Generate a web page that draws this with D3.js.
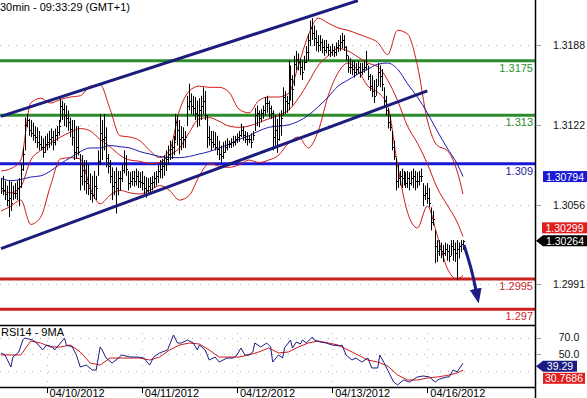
<!DOCTYPE html>
<html>
<head>
<meta charset="utf-8">
<script src="https://cdn.jsdelivr.net/npm/d3@7/dist/d3.min.js"></script>
<style>
  body { margin: 0; background: #fff; }
  svg { display: block; font-family: "Liberation Sans", Arial, sans-serif; }
</style>
</head>
<body>
<svg width="587" height="398"></svg>
<script>
// ---- data (30min bars, 04/09 12:30 -> 04/16 09:00) ----
const title = '30min - 09:33:29 (GMT+1)'
const dayLabels = ['04/10/2012', '04/11/2012', '04/12/2012', '04/13/2012', '04/16/2012']
const dayStarts = [23, 71, 119, 167, 215]

const high = [
  1.3078,1.3080,1.3076,1.3072,1.3076,1.3075,1.3072,1.3074,1.3076,1.3078,
  1.3090,1.3103,1.3128,1.3131,1.3127,1.3126,1.3124,1.3121,1.3120,1.3117,
  1.3113,1.3111,1.3113,1.3115,1.3117,1.3119,1.3117,1.3119,1.3121,1.3126,
  1.3144,1.3142,1.3140,1.3138,1.3134,1.3128,1.3126,1.3126,1.3121,1.3121,
  1.3098,1.3097,1.3093,1.3093,1.3089,1.3082,1.3080,1.3084,1.3080,1.3101,
  1.3131,1.3126,1.3131,1.3120,1.3098,1.3093,1.3087,1.3084,1.3087,1.3084,
  1.3084,1.3090,1.3101,1.3097,1.3084,1.3083,1.3084,1.3084,1.3086,1.3084,
  1.3083,1.3084,1.3080,1.3079,1.3078,1.3079,1.3080,1.3083,1.3084,1.3089,
  1.3093,1.3094,1.3097,1.3101,1.3105,1.3109,1.3109,1.3113,1.3131,1.3130,
  1.3126,1.3121,1.3120,1.3117,1.3146,1.3156,1.3148,1.3146,1.3145,1.3142,
  1.3144,1.3146,1.3153,1.3150,1.3130,1.3121,1.3117,1.3117,1.3116,1.3113,
  1.3109,1.3105,1.3108,1.3109,1.3111,1.3109,1.3111,1.3113,1.3113,1.3115,
  1.3117,1.3123,1.3121,1.3117,1.3116,1.3113,1.3115,1.3117,1.3136,1.3138,
  1.3134,1.3135,1.3138,1.3145,1.3146,1.3142,1.3138,1.3134,1.3130,1.3127,
  1.3132,1.3134,1.3153,1.3150,1.3146,1.3175,1.3171,1.3163,1.3179,1.3183,
  1.3181,1.3177,1.3175,1.3179,1.3187,1.3197,1.3208,1.3210,1.3204,1.3200,
  1.3196,1.3196,1.3193,1.3192,1.3192,1.3189,1.3187,1.3189,1.3187,1.3190,
  1.3192,1.3196,1.3198,1.3196,1.3187,1.3179,1.3177,1.3175,1.3175,1.3173,
  1.3175,1.3173,1.3173,1.3175,1.3183,1.3171,1.3164,1.3163,1.3159,1.3160,
  1.3173,1.3171,1.3168,1.3153,1.3146,1.3136,1.3130,1.3117,1.3109,1.3095,
  1.3089,1.3084,1.3086,1.3084,1.3083,1.3084,1.3083,1.3084,1.3086,1.3084,
  1.3083,1.3084,1.3086,1.3074,1.3072,1.3074,1.3070,1.3054,1.3051,1.3035,
  1.3027,1.3027,1.3025,1.3023,1.3025,1.3024,1.3023,1.3027,1.3027,1.3025,
  1.3027,1.3025,1.3027,1.3027
]
const low = [
  1.3065,1.3064,1.3060,1.3055,1.3046,1.3051,1.3060,1.3061,1.3060,1.3055,
  1.3070,1.3084,1.3101,1.3120,1.3113,1.3112,1.3109,1.3107,1.3103,1.3101,
  1.3101,1.3095,1.3099,1.3101,1.3103,1.3105,1.3101,1.3105,1.3109,1.3113,
  1.3124,1.3126,1.3121,1.3120,1.3117,1.3112,1.3105,1.3093,1.3094,1.3097,
  1.3068,1.3072,1.3068,1.3065,1.3064,1.3060,1.3058,1.3061,1.3060,1.3080,
  1.3089,1.3093,1.3101,1.3087,1.3082,1.3074,1.3060,1.3064,1.3049,1.3064,
  1.3068,1.3075,1.3082,1.3080,1.3068,1.3070,1.3072,1.3071,1.3072,1.3070,
  1.3070,1.3068,1.3064,1.3062,1.3065,1.3066,1.3068,1.3070,1.3072,1.3074,
  1.3078,1.3078,1.3080,1.3084,1.3089,1.3093,1.3094,1.3097,1.3109,1.3105,
  1.3098,1.3101,1.3103,1.3103,1.3121,1.3134,1.3131,1.3130,1.3126,1.3120,
  1.3121,1.3126,1.3131,1.3126,1.3103,1.3105,1.3101,1.3103,1.3101,1.3097,
  1.3093,1.3091,1.3094,1.3099,1.3101,1.3103,1.3103,1.3104,1.3105,1.3107,
  1.3108,1.3112,1.3109,1.3107,1.3105,1.3107,1.3103,1.3109,1.3117,1.3121,
  1.3120,1.3124,1.3127,1.3130,1.3132,1.3128,1.3127,1.3101,1.3105,1.3099,
  1.3109,1.3113,1.3130,1.3131,1.3132,1.3134,1.3142,1.3138,1.3154,1.3167,
  1.3167,1.3163,1.3159,1.3167,1.3173,1.3175,1.3187,1.3192,1.3187,1.3183,
  1.3182,1.3183,1.3181,1.3179,1.3181,1.3179,1.3178,1.3179,1.3178,1.3179,
  1.3182,1.3183,1.3185,1.3183,1.3175,1.3165,1.3164,1.3163,1.3161,1.3163,
  1.3164,1.3161,1.3163,1.3165,1.3167,1.3159,1.3150,1.3145,1.3140,1.3146,
  1.3154,1.3153,1.3150,1.3136,1.3130,1.3119,1.3117,1.3101,1.3093,1.3068,
  1.3070,1.3072,1.3070,1.3072,1.3070,1.3070,1.3068,1.3072,1.3070,1.3068,
  1.3070,1.3072,1.3075,1.3055,1.3060,1.3057,1.3054,1.3035,1.3039,1.3008,
  1.3009,1.3014,1.3012,1.3009,1.3014,1.3010,1.3009,1.3014,1.3010,1.3009,
  1.2994,1.3012,1.3017,1.3019
]
const close = [
  1.3070,1.3068,1.3065,1.3060,1.3062,1.3058,1.3066,1.3066,1.3070,1.3072,
  1.3086,1.3098,1.3122,1.3126,1.3118,1.3115,1.3114,1.3112,1.3108,1.3106,
  1.3104,1.3100,1.3106,1.3108,1.3110,1.3112,1.3108,1.3114,1.3116,1.3121,
  1.3138,1.3135,1.3130,1.3128,1.3124,1.3119,1.3112,1.3100,1.3104,1.3100,
  1.3080,1.3085,1.3076,1.3074,1.3070,1.3066,1.3064,1.3072,1.3070,1.3092,
  1.3115,1.3110,1.3112,1.3095,1.3088,1.3080,1.3072,1.3075,1.3070,1.3078,
  1.3078,1.3085,1.3090,1.3086,1.3074,1.3076,1.3078,1.3076,1.3080,1.3076,
  1.3075,1.3074,1.3070,1.3068,1.3072,1.3074,1.3075,1.3078,1.3080,1.3084,
  1.3086,1.3088,1.3090,1.3094,1.3098,1.3102,1.3104,1.3108,1.3124,1.3118,
  1.3110,1.3112,1.3110,1.3112,1.3138,1.3142,1.3138,1.3136,1.3132,1.3130,
  1.3134,1.3138,1.3142,1.3130,1.3112,1.3110,1.3108,1.3106,1.3104,1.3102,
  1.3098,1.3096,1.3100,1.3104,1.3106,1.3106,1.3108,1.3108,1.3110,1.3112,
  1.3114,1.3118,1.3114,1.3110,1.3110,1.3110,1.3108,1.3114,1.3130,1.3132,
  1.3128,1.3132,1.3134,1.3140,1.3140,1.3136,1.3132,1.3112,1.3118,1.3110,
  1.3122,1.3128,1.3145,1.3142,1.3140,1.3165,1.3160,1.3152,1.3172,1.3176,
  1.3174,1.3170,1.3166,1.3174,1.3182,1.3192,1.3202,1.3198,1.3194,1.3190,
  1.3188,1.3190,1.3186,1.3184,1.3186,1.3184,1.3182,1.3184,1.3182,1.3186,
  1.3188,1.3190,1.3192,1.3186,1.3180,1.3170,1.3170,1.3168,1.3166,1.3168,
  1.3170,1.3166,1.3168,1.3170,1.3172,1.3162,1.3154,1.3150,1.3146,1.3154,
  1.3166,1.3162,1.3156,1.3142,1.3134,1.3124,1.3120,1.3104,1.3096,1.3076,
  1.3078,1.3080,1.3078,1.3076,1.3074,1.3078,1.3074,1.3078,1.3080,1.3076,
  1.3076,1.3080,1.3080,1.3064,1.3066,1.3062,1.3058,1.3042,1.3044,1.3022,
  1.3018,1.3020,1.3018,1.3016,1.3020,1.3018,1.3014,1.3022,1.3020,1.3016,
  1.3020,1.3022,1.3024,1.30264
]

// indicator samples (bar index)
const sampleIdx = [0,5,10,15,20,25,30,35,40,45,50,55,60,65,70,75,80,85,90,95,
  100,105,110,115,120,125,130,135,140,145,150,155,160,165,170,175,180,185,190,195,
  200,205,210,215,220,225,230,233]
const bbUpper = [1.3084,1.3086,1.3093,1.3140,1.3144,1.3140,1.3143,1.3145,1.3146,1.3154,
  1.3155,1.3135,1.3113,1.3112,1.3109,1.3101,1.3095,1.3101,1.3134,1.3150,
  1.3154,1.3153,1.3153,1.3149,1.3135,1.3132,1.3142,1.3145,1.3145,1.3148,
  1.3171,1.3196,1.3210,1.3206,1.3202,1.3200,1.3197,1.3194,1.3190,1.3180,
  1.3200,1.3197,1.3171,1.3126,1.3105,1.3101,1.3084,1.3065]
const bbMiddle = [1.3068,1.3066,1.3071,1.3093,1.3101,1.3107,1.3112,1.3116,1.3119,1.3117,
  1.3110,1.3104,1.3097,1.3093,1.3092,1.3090,1.3091,1.3097,1.3103,1.3116,
  1.3127,1.3128,1.3125,1.3121,1.3120,1.3121,1.3124,1.3127,1.3130,1.3134,
  1.3144,1.3157,1.3171,1.3179,1.3185,1.3183,1.3178,1.3173,1.3170,1.3159,
  1.3142,1.3121,1.3107,1.3090,1.3070,1.3056,1.3042,1.30299]
const bbLower = [1.3051,1.3055,1.3060,1.3040,1.3046,1.3072,1.3094,1.3095,1.3094,1.3070,
  1.3057,1.3064,1.3068,1.3066,1.3065,1.3068,1.3072,1.3068,1.3060,1.3064,
  1.3080,1.3090,1.3088,1.3087,1.3089,1.3093,1.3091,1.3093,1.3097,1.3107,
  1.3112,1.3103,1.3117,1.3146,1.3165,1.3173,1.3167,1.3154,1.3149,1.3138,
  1.3089,1.3050,1.3037,1.3055,1.3031,1.3004,1.2995,1.2998]
const maLine = [1.3078,1.3076,1.3077,1.3079,1.3080,1.3084,1.3090,1.3095,1.3100,1.3103,
  1.3103,1.3105,1.3104,1.3103,1.3100,1.3098,1.3096,1.3095,1.3095,1.3096,
  1.3098,1.3100,1.3103,1.3106,1.3110,1.3113,1.3117,1.3120,1.3121,1.3122,
  1.3125,1.3130,1.3137,1.3145,1.3154,1.3159,1.3164,1.3168,1.3172,1.3173,
  1.3168,1.3156,1.3145,1.3132,1.3117,1.3103,1.3090,1.30794]

// RSI14 (own sample points) and its 9MA (on sampleIdx)
const rsiIdx = [0,2,5,6,9,11,12,16,18,21,23,26,27,30,32,33,36,38,40,43,
  46,48,50,51,53,56,58,61,65,69,72,75,77,80,84,87,89,91,94,97,
  99,100,103,105,108,110,114,117,119,121,123,125,127,128,131,134,136,137,140,142,
  143,146,147,149,151,152,154,157,158,161,164,167,171,172,174,177,179,182,185,187,
  190,191,193,195,198,200,203,206,210,213,216,219,221,225,226,228,230,233]
const rsi = [51.6,49.2,34.7,46.7,52.8,67.2,69.6,67.2,63.6,55.2,
  61.2,58.8,55.2,63.6,69.6,61.2,58.8,49.2,34.7,37.1,
  31.1,31.1,58.8,55.2,45.5,39.5,43.1,49.2,46.7,46.7,
  45.5,37.1,46.7,51.6,55.2,73.3,63.6,63.6,67.2,63.6,
  55.2,61.2,55.2,43.1,46.7,40.7,45.5,45.5,49.2,57.6,
  49.2,49.2,52.8,63.6,58.8,63.6,58.8,40.7,49.2,45.5,
  57.6,67.2,57.6,64.8,62.4,67.2,63.6,70.8,67.2,64.8,
  63.6,61.2,60.0,61.2,49.2,43.1,45.5,40.7,45.5,33.5,
  33.5,49.2,40.7,31.1,16.6,13.0,19.0,16.6,22.7,23.9,
  22.7,16.6,20.2,22.7,22.7,31.1,28.7,39.29]
const rsiMA = [49.2,49.2,49.2,66.0,63.6,58.8,58.8,61.2,52.8,39.5,
  37.1,45.5,45.5,45.5,45.5,43.1,46.7,55.2,61.2,63.6,
  62.4,55.2,46.7,46.7,46.7,49.2,52.8,57.6,51.6,52.8,
  58.8,63.6,66.0,63.6,61.2,55.2,49.2,43.1,40.7,35.9,
  25.1,19.0,19.0,21.4,22.7,24.5,27.5,30.7686]

// drawn levels and trend lines
const levelValues = [1.3175, 1.313, 1.309, 1.2995, 1.297]
const levelNames = ['1.3175', '1.313', '1.309', '1.2995', '1.297']
const channelUpper = [[0, 1.3129], [180, 1.32245]]
const channelLower = [[0, 1.3020], [215, 1.3150]]
const arrowPts = [[233.5, 1.3023], [237.5, 1.3002], [239.5, 1.2986]]

const priceTicks = [1.3188, 1.3122, 1.3056, 1.2991]
const rsiTicks = [70, 50, 30]
const rsiTickLabels = ['70.0', '50.0']

// ---- layout ----
let svg = d3.select('svg')
let plotRight = 535
let mainBottom = 325
let rsiBottom = 387

let scale = {
  x: d3.scaleLinear().domain([0, 233]).range([1, 463]),
  y: d3.scaleLinear().domain([1.2957, 1.3225]).range([325, 0]),
  r: d3.scaleLinear().domain([0, 100]).range([395.8, 312.8])
}

let colors = {
  level: ['#2c8c2c', '#2c8c2c', '#1a1ad6', '#cc1f1f', '#cc1f1f'],
  label: ['#2c8c2c', '#2c8c2c', '#24249c', '#cc1f1f', '#cc1f1f']
}

let defs = svg.append('defs')
defs.append('clipPath').attr('id', 'clipMain')
  .append('rect').attr('x', 0).attr('y', 0).attr('width', plotRight).attr('height', mainBottom)
defs.append('clipPath').attr('id', 'clipRsi')
  .append('rect').attr('x', 0).attr('y', mainBottom).attr('width', plotRight).attr('height', rsiBottom - mainBottom)
defs.append('marker').attr('id', 'head')
  .attr('markerUnits', 'userSpaceOnUse').attr('markerWidth', 16).attr('markerHeight', 12)
  .attr('refX', 1).attr('refY', 6).attr('orient', 'auto')
  .append('path').attr('d', 'M0,0 L15,6 L0,12 Z').attr('fill', '#1c1c84')

let main = svg.append('g').attr('clip-path', 'url(#clipMain)')
let low_panel = svg.append('g').attr('clip-path', 'url(#clipRsi)')

// dotted grid
main.selectAll('.grid')
  .data(priceTicks)
  .enter()
  .append('line')
  .attr('x1', 0).attr('x2', plotRight)
  .attr('y1', d => Math.round(scale.y(d)) + 0.5)
  .attr('y2', d => Math.round(scale.y(d)) + 0.5)
  .attr('stroke', '#b4b4b4')
  .attr('stroke-dasharray', '1,7')

low_panel.selectAll('.grid')
  .data(rsiTicks)
  .enter()
  .append('line')
  .attr('x1', 0).attr('x2', plotRight)
  .attr('y1', d => Math.round(scale.r(d)) + 0.5)
  .attr('y2', d => Math.round(scale.r(d)) + 0.5)
  .attr('stroke', '#b4b4b4')
  .attr('stroke-dasharray', '1,7')

low_panel.selectAll('.vgrid')
  .data(dayStarts)
  .enter()
  .append('line')
  .attr('x1', d => Math.round(scale.x(d)) + 0.5)
  .attr('x2', d => Math.round(scale.x(d)) + 0.5)
  .attr('y1', mainBottom).attr('y2', rsiBottom)
  .attr('stroke', '#b4b4b4')
  .attr('stroke-dasharray', '1,7')

// horizontal levels
main.selectAll('.level')
  .data(levelValues)
  .enter()
  .append('line')
  .attr('x1', 0).attr('x2', plotRight)
  .attr('y1', d => scale.y(d)).attr('y2', d => scale.y(d))
  .attr('stroke', (d, i) => colors.level[i])
  .attr('stroke-width', 3)

svg.selectAll('.levelText')
  .data(levelValues)
  .enter()
  .append('text')
  .attr('x', 533)
  .attr('y', d => scale.y(d) + 11)
  .attr('text-anchor', 'end')
  .attr('font-size', 11)
  .attr('fill', (d, i) => colors.label[i])
  .text((d, i) => levelNames[i])

// indicators
let sLine = values => d3.line()
  .x((d, i) => scale.x(sampleIdx[i]))
  .y((d, i) => scale.y(values[i]))
  .curve(d3.curveMonotoneX)(values)

;[bbUpper, bbMiddle, bbLower].forEach(band => {
  main.append('path').attr('d', sLine(band))
    .attr('fill', 'none').attr('stroke', '#d01818').attr('stroke-width', 1)
})
main.append('path').attr('d', sLine(maLine))
  .attr('fill', 'none').attr('stroke', '#1c1cb4').attr('stroke-width', 1)

// OHLC bars
main.selectAll('.bar')
  .data(high)
  .enter()
  .append('line')
  .attr('x1', (d, i) => Math.round(scale.x(i)) + 0.5)
  .attr('x2', (d, i) => Math.round(scale.x(i)) + 0.5)
  .attr('y1', (d, i) => scale.y(high[i]))
  .attr('y2', (d, i) => scale.y(low[i]))
  .attr('stroke', '#000')
  .attr('stroke-width', 1)

main.selectAll('.tick')
  .data(close)
  .enter()
  .append('line')
  .attr('x1', (d, i) => Math.round(scale.x(i)) + 1)
  .attr('x2', (d, i) => Math.round(scale.x(i)) + 2)
  .attr('y1', d => Math.round(scale.y(d)) + 0.5)
  .attr('y2', d => Math.round(scale.y(d)) + 0.5)
  .attr('stroke', '#000')

// trend channel
;[channelUpper, channelLower].forEach(seg => {
  main.append('line')
    .attr('x1', scale.x(seg[0][0])).attr('y1', scale.y(seg[0][1]))
    .attr('x2', scale.x(seg[1][0])).attr('y2', scale.y(seg[1][1]))
    .attr('stroke', '#1c1c7c').attr('stroke-width', 3)
})

// forecast arrow
main.append('path')
  .attr('d', d3.line().x(d => scale.x(d[0])).y(d => scale.y(d[1])).curve(d3.curveBasis)(arrowPts))
  .attr('fill', 'none').attr('stroke', '#1c1c84').attr('stroke-width', 3)
  .attr('marker-end', 'url(#head)')

// RSI panel
low_panel.append('path')
  .attr('d', d3.line().x((d, i) => scale.x(sampleIdx[i])).y(d => scale.r(d))(rsiMA))
  .attr('fill', 'none').attr('stroke', '#d01818').attr('stroke-width', 1)
low_panel.append('path')
  .attr('d', d3.line().x((d, i) => scale.x(rsiIdx[i])).y(d => scale.r(d))(rsi))
  .attr('fill', 'none').attr('stroke', '#1c1c84').attr('stroke-width', 1)

// frame
svg.append('line').attr('x1', 0).attr('x2', plotRight).attr('y1', mainBottom + 0.5).attr('y2', mainBottom + 0.5)
  .attr('stroke', '#000').attr('stroke-width', 1.5)
svg.append('line').attr('x1', 0).attr('x2', plotRight).attr('y1', rsiBottom + 0.5).attr('y2', rsiBottom + 0.5)
  .attr('stroke', '#000').attr('stroke-width', 1.5)
svg.append('line').attr('x1', plotRight + 0.5).attr('x2', plotRight + 0.5).attr('y1', 0).attr('y2', 398)
  .attr('stroke', '#000').attr('stroke-width', 1.5)

svg.append('text').attr('x', 0).attr('y', 11).attr('font-size', 11).attr('fill', '#000').text(title)
svg.append('text').attr('x', 1).attr('y', 336).attr('font-size', 11).attr('fill', '#000').text('RSI14 - 9MA')

// right axis
svg.selectAll('.ptick')
  .data(priceTicks)
  .enter()
  .append('line')
  .attr('x1', plotRight + 1).attr('x2', plotRight + 6)
  .attr('y1', d => Math.round(scale.y(d)) + 0.5).attr('y2', d => Math.round(scale.y(d)) + 0.5)
  .attr('stroke', '#999')
svg.selectAll('.plabel')
  .data(priceTicks)
  .enter()
  .append('text')
  .attr('x', 569).attr('y', d => scale.y(d) + 4)
  .attr('text-anchor', 'middle').attr('font-size', 10.5).attr('fill', '#111')
  .text(d => d.toFixed(4))

svg.selectAll('.rtick')
  .data(rsiTickLabels)
  .enter()
  .append('line')
  .attr('x1', plotRight + 1).attr('x2', plotRight + 6)
  .attr('y1', (d, i) => Math.round(scale.r(rsiTicks[i])) + 0.5)
  .attr('y2', (d, i) => Math.round(scale.r(rsiTicks[i])) + 0.5)
  .attr('stroke', '#999')
svg.selectAll('.rlabel')
  .data(rsiTickLabels)
  .enter()
  .append('text')
  .attr('x', 569).attr('y', (d, i) => scale.r(rsiTicks[i]) + 3.5)
  .attr('text-anchor', 'middle').attr('font-size', 10.5).attr('fill', '#111')
  .text(d => d)

// value boxes
function valueBox(cy, x0, x1, fill, text, pointer) {
  let h = 11
  let g = svg.append('g')
  if (pointer) {
    g.append('path')
      .attr('d', `M${x0},${cy} L${x0 + 7},${cy - h / 2} L${x1},${cy - h / 2} L${x1},${cy + h / 2} L${x0 + 7},${cy + h / 2} Z`)
      .attr('fill', fill)
  } else {
    g.append('rect').attr('x', x0).attr('y', cy - h / 2).attr('width', x1 - x0).attr('height', h).attr('fill', fill)
  }
  g.append('text')
    .attr('x', (x0 + (pointer ? 7 : 0) + x1) / 2).attr('y', cy + 4)
    .attr('text-anchor', 'middle').attr('font-size', 10.5).attr('fill', '#fff')
    .text(text)
}

let lastIdx = close.length - 1
let yLast = scale.y(close[lastIdx])
let yMa = scale.y(maLine[maLine.length - 1])
let yMid = Math.min(scale.y(bbMiddle[bbMiddle.length - 1]), yLast - 13)
valueBox(yMa, 543, 587, '#1a1ad6', maLine[maLine.length - 1].toFixed(5), false)
valueBox(yMid, 542, 587, '#e21f1f', bbMiddle[bbMiddle.length - 1].toFixed(5), false)
valueBox(yLast, 536, 587, '#000', close[lastIdx].toFixed(5), true)

// keep the RSI boxes clear of the 50.0 label
let yRsi = Math.max(scale.r(rsi[rsi.length - 1]), scale.r(50) + 12)
let yRsiMa = Math.max(scale.r(rsiMA[rsiMA.length - 1]), yRsi + 12)
valueBox(yRsi, 536, 577, '#1c1c84', rsi[rsi.length - 1].toFixed(2), true)
valueBox(yRsiMa, 543, 585, '#e21f1f', String(rsiMA[rsiMA.length - 1]), false)

// date axis
svg.selectAll('.dtick')
  .data(dayStarts)
  .enter()
  .append('line')
  .attr('x1', d => Math.round(scale.x(d)) + 0.5).attr('x2', d => Math.round(scale.x(d)) + 0.5)
  .attr('y1', rsiBottom).attr('y2', rsiBottom + 6)
  .attr('stroke', '#000')
svg.selectAll('.dlabel')
  .data(dayStarts)
  .enter()
  .append('text')
  .attr('x', d => scale.x(d) + 3).attr('y', 397)
  .attr('font-size', 11).attr('fill', '#000')
  .text((d, i) => dayLabels[i])
</script>
</body>
</html>
